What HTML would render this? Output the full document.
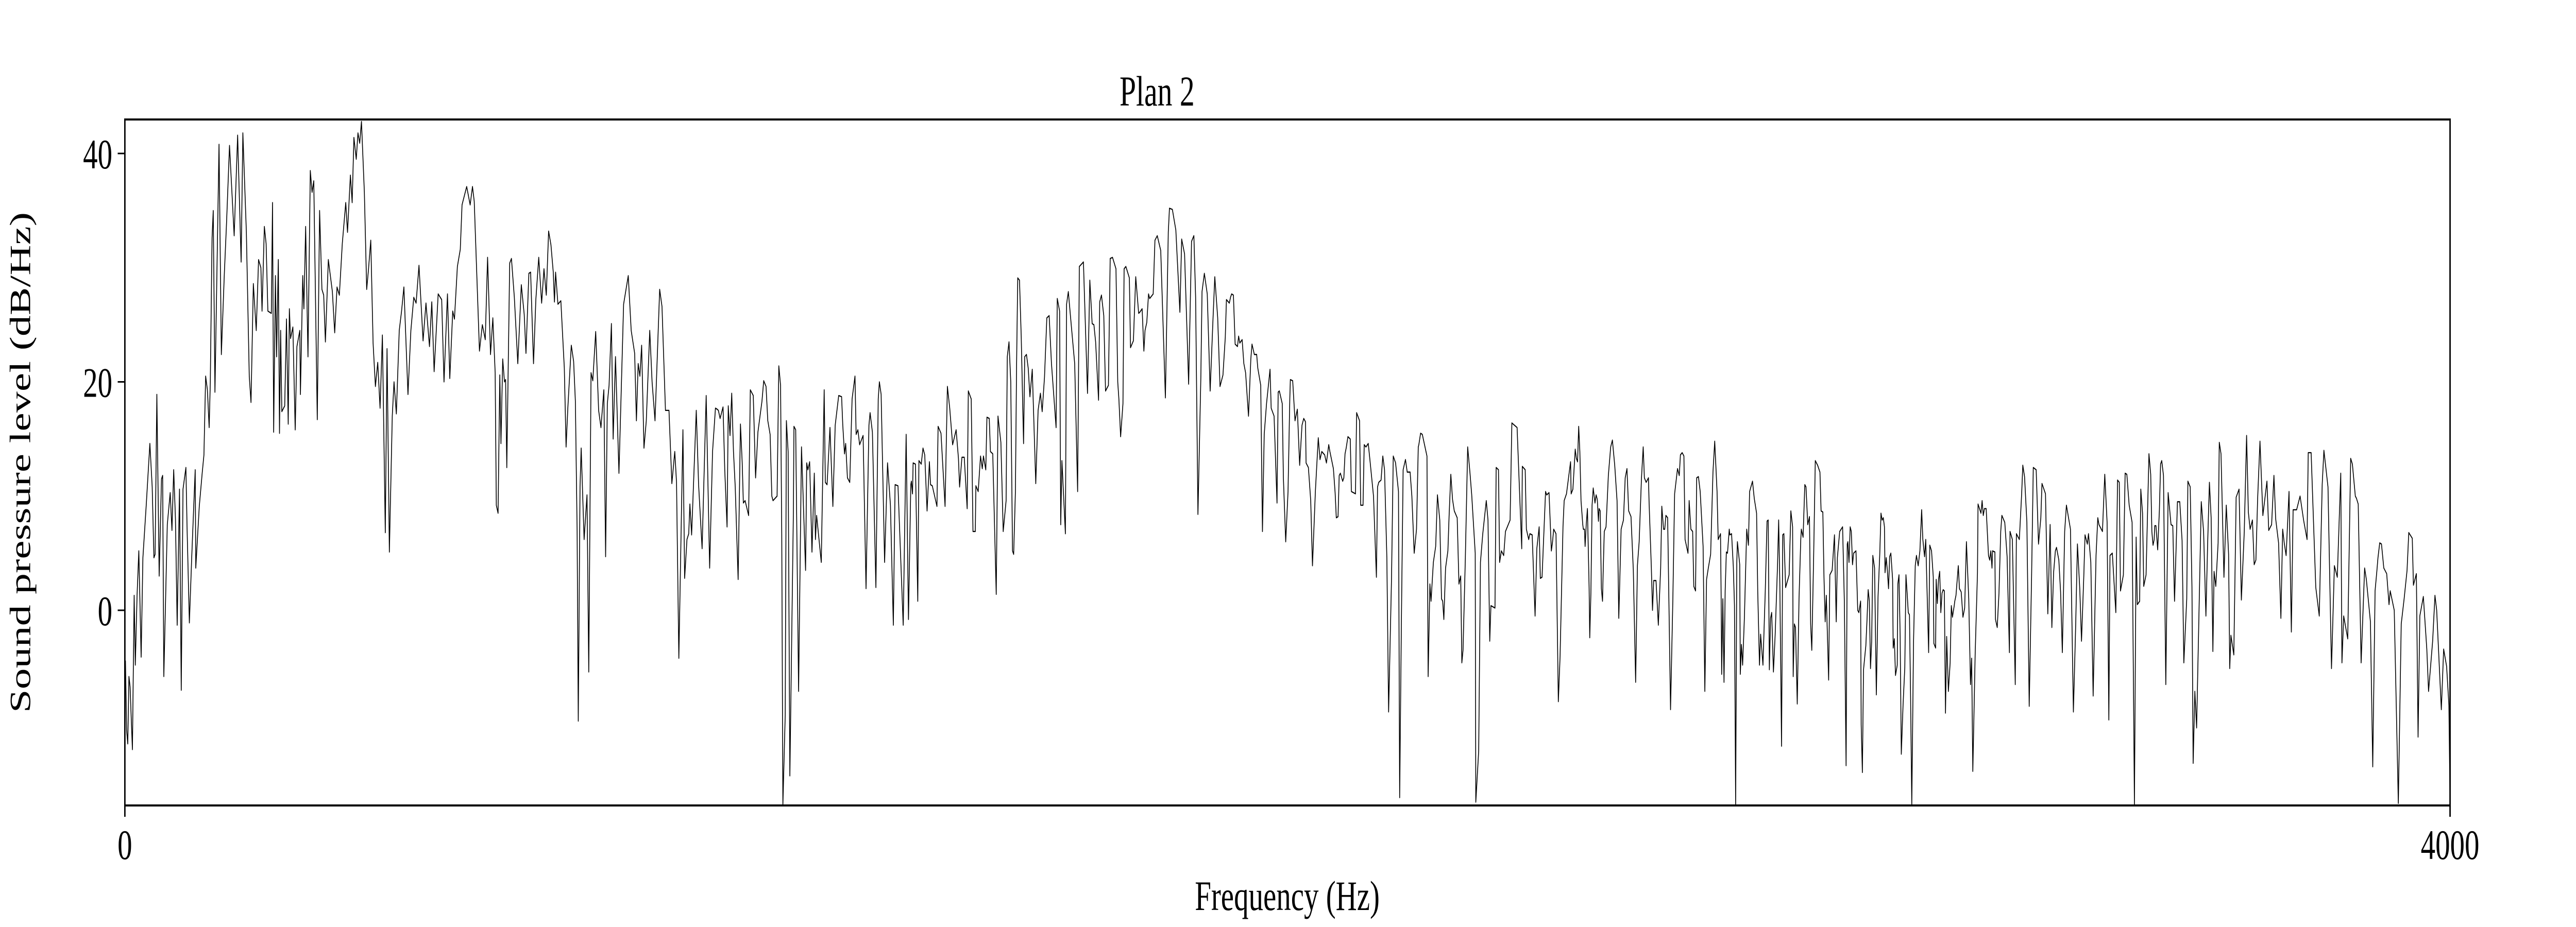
<!DOCTYPE html>
<html><head><meta charset="utf-8"><style>
html,body{margin:0;padding:0;background:#fff;width:100%;height:100%;overflow:hidden}
#chart{display:block;width:100vw;height:100vh}
svg text{font-family:"Liberation Serif","Times New Roman",serif;fill:#000}
</style></head><body>
<svg id="chart" viewBox="0 0 7200 1800" preserveAspectRatio="none" xmlns="http://www.w3.org/2000/svg">
<rect x="0" y="0" width="7200" height="1800" fill="#fff"/>
<text x="3234" y="205" font-size="83" text-anchor="middle">Plan 2</text>
<text x="3598" y="1767" font-size="82" text-anchor="middle">Frequency (Hz)</text>
<text transform="translate(84,898) rotate(-90)" font-size="82" text-anchor="middle">Sound pressure level (dB/Hz)</text>
<defs><clipPath id="plotclip"><rect x="349" y="232" width="6499" height="1332"/></clipPath></defs>
<g id="xticks"></g>
<g id="yticks"></g>
<path id="series" fill="none" stroke="#000" stroke-width="2.3" stroke-linejoin="round" clip-path="url(#plotclip)"/>
<rect x="349" y="232" width="6499" height="1332" fill="none" stroke="#000" stroke-width="4"/>
</svg>
<script>
const freqHz = [1,3,5,7,9,13,16,18,21,24,28,31,37,43,47,50,52,55,59,63,65,67,73,78,81,84,87,90,94,97,100,105,107,111,115,121,122,128,133,136,139,142,145,147,150,152,155,162,166,171,175,180,188,194,200,203,209,214,217,221,226,230,234,236,240,243,246,252,254,256,259,261,264,266,268,270,275,278,281,283,285,289,293,296,301,302,306,308,311,315,319,322,325,331,335,339,342,345,350,357,361,365,369,374,380,383,388,391,394,398,401,404,407,412,416,419,423,427,431,435,439,443,448,451,455,460,463,467,472,476,480,487,492,497,501,506,513,518,524,
528,532,539,545,549,555,559,564,567,572,577,580,588,594,598,601,610,615,620,624,629,633,637,639,642,645,647,650,653,655,657,662,665,670,676,682,687,690,695,698,703,707,712,717,721,725,729,733,737,739,741,745,750,756,759,762,768,772,775,778,780,783,785,790,795,798,802,805,810,815,819,824,827,830,833,837,840,844,850,858,866,871,877,880,883,886,889,893,897,903,907,912,920,924,930,936,941,946,949,953,960,963,967,970,972,975,983,987,993,1000,1006,1011,
1016,1019,1021,1024,1029,1032,1036,1038,1041,1044,1047,1050,1055,1059,1062,1064,1067,1073,1076,1081,1085,1089,1096,1099,1103,1106,1110,1113,1115,1122,1125,1128,1130,1132,1136,1138,1141,1144,1150,1151,1154,1159,1164,1171,1173,1175,1178,1182,1186,1188,1190,1198,1203,1205,1208,1213,1218,1222,1228,1233,1235,1238,1240,1243,1247,1251,1256,1258,1261,1264,1270,1275,1280,1282,1286,1292,1296,1298,1301,1307,1312,1317,1322,1325,1330,1339,1344,1348,1352,1353,1355,1356,1360,1364,1366,1370,1373,1376,1380,1384,1386,1389,1397,1399,1404,1411,1415,1419,1424,1430,1434,1436,1440,1444,1449,1451,1456,1459,1463,1464,1468,1472,1475,1477,1481,1483,1487,1489,1493,1499,1502,1507,
1511,1516,1518,1521,1524,1527,1529,1532,1534,1536,1539,1542,1546,1548,1551,1554,1557,1561,1567,1571,1575,1578,1582,1586,1590,1594,1602,1604,1608,1610,1612,1618,1620,1623,1628,1634,1639,1642,1649,1656,1660,1664,1667,1670,1675,1677,1680,1684,1687,1692,1695,1699,1705,1708,1710,1713,1717,1719,1722,1728,1730,1735,1739,1744,1746,1750,1753,1755,1758,1761,1763,1769,1772,1776,1782,1790,1795,1797,1802,1808,1815,1818,1823,1830,1835,1839,1842,1846,1851,1853,1857,1862,1867,1872,1875,1880,1884,1889,1893,1895,1900,1902,1904,1907,1910,1914,1916,1918,1922,1925,1928,1933,1937,1939,1943,1947,1949,1954,1957,1960,1964,1970,1972,1977,1982,1984,1986,1991,1993,1997,
2001,2004,2005,2009,2013,2017,2021,2025,2028,2031,2032,2036,2040,2043,2048,2053,2056,2059,2064,2067,2071,2073,2079,2082,2084,2087,2089,2091,2095,2097,2099,2101,2104,2108,2110,2117,2119,2124,2126,2130,2132,2135,2139,2142,2148,2153,2155,2157,2161,2164,2167,2171,2174,2179,2182,2186,2191,2193,2196,2199,2203,2206,2211,2214,2218,2222,2225,2226,2229,2232,2240,2242,2245,2247,2251,2255,2258,2262,2265,2267,2269,2272,2276,2278,2281,2284,2287,2292,2295,2298,2300,2302,2306,2310,2314,2317,2323,2324,2329,2332,2336,2342,2345,2348,2350,2357,2359,2363,2365,2368,2372,2375,2383,2386,2395,2403,2404,2409,2411,2415,2417,2421,2426,2429,2433,2435,2438,2444,2446,2450,2454,2456,2458,2462,2466,2469,2474,2476,2480,2487,2488,2491,
2495,2497,2499,2501,2503,2505,2508,2509,2511,2512,2514,2516,2519,2520,2522,2524,2526,2529,2531,2533,2535,2536,2538,2540,2542,2543,2545,2548,2552,2556,2559,2563,2567,2570,2574,2578,2581,2584,2587,2591,2595,2599,2602,2605,2609,2612,2614,2617,2621,2622,2626,2628,2630,2634,2638,2642,2644,2647,2649,2651,2654,2656,2659,2663,2666,2671,2674,2676,2679,2682,2684,2689,2691,2694,2697,2699,2702,2704,2707,2710,2715,2718,2721,2724,2728,2732,2735,2739,2741,2745,2746,2747,2749,2751,2753,2755,2757,2760,2761,2764,2767,2769,2771,2773,2774,2778,2779,2781,2783,2786,2790,2793,2795,2800,2803,2807,2809,2812,2814,2818,2822,2825,2827,2829,2831,2833,2836,2839,2843,2845,2847,2850,2852,2854,2857,2863,2866,2869,2870,2872,2874,2877,2880,2883,2884,2887,2890,2892,2895,2898,2900,2902,2905,2908,2912,2916,2918,2921,2923,2925,2927,2931,2933,2937,2941,2944,2946,2950,2955,2958,2961,2963,2964,2966,2968,2970,2972,2974,2978,2981,2983,
2986,2987,2989,2991,2995,2997,2999,3001,3003,3005,3007,3010,3013,3016,3019,3021,3023,3025,3027,3028,3030,3032,3034,3036,3038,3041,3042,3044,3046,3049,3050,3052,3054,3056,3059,3062,3064,3066,3068,3070,3072,3074,3077,3080,3082,3085,3088,3091,3093,3096,3098,3103,3105,3108,3111,3112,3115,3116,3118,3120,3122,3124,3126,3128,3130,3132,3134,3137,3140,3142,3144,3147,3148,3150,3154,3156,3158,3159,3162,3165,3168,3172,3175,3177,3179,3183,3187,3188,3193,3195,3197,3199,3202,3206,3208,3210,3212,3213,3217,3218,3221,3224,3227,3229,3234,3238,3242,3243,3247,3252,3254,3259,3263,3265,3268,3272,3276,3280,3283,3288,3292,3296,3298,3304,3308,3312,3315,3318,3321,3323,3327,3330,3333,3337,3340,3347,3352,3356,3359,3363,3366,3370,3372,3376,3378,3382,3386,3391,3394,3396,3402,3406,3410,3413,3415,3419,3425,3428,3431,3433,3438,3441,3444,3448,3453,3457,3460,3462,3466,3468,3471,3473,3477,
3482,3485,3487,3489,3491,3492,3494,3497,3500,3502,3504,3507,3511,3515,3518,3520,3523,3526,3529,3531,3535,3539,3542,3547,3549,3553,3556,3558,3561,3564,3569,3572,3576,3580,3583,3586,3589,3592,3594,3597,3601,3603,3606,3611,3615,3619,3621,3623,3628,3632,3637,3641,3646,3650,3653,3656,3660,3663,3666,3669,3673,3678,3685,3688,3693,3697,3700,3705,3709,3712,3715,3718,3723,3727,3730,3736,3742,3748,3754,3756,3761,3766,3769,3775,3780,3783,3790,3796,3801,3806,3812,3814,3817,3824,3829,3832,3837,3839,3842,3847,3853,3856,3863,3867,3871,3874,3876,3879,3882,3886,3891,3895,3897,3904,3911,3916,3921,3926,3929,3935,3937,3942,3945,3948,3954,3960,3963,3970,3974,3977,3985,3989,3994,3998,4000];
const levelDb = [-4.4,-10.5,-11.7,-5.8,-6.7,-12.2,1.3,-4.8,1.3,5.2,-4.1,4.6,9.4,14.6,10.8,4.6,4.9,18.9,3.0,11.5,11.8,-5.8,7.5,10.3,7.0,12.3,8.0,-1.3,10.6,-7.0,10.6,12.5,7.3,-1.1,4.6,12.3,3.7,9.1,12.0,13.6,20.5,19.3,16.0,20.0,32.6,35.0,19.1,40.8,22.4,29.3,34.0,40.7,32.8,41.6,30.5,41.8,33.1,20.5,18.2,28.6,24.5,30.7,30.0,26.2,33.6,32.1,26.2,26.0,35.7,15.6,29.3,22.2,30.7,15.5,24.5,17.4,17.9,25.5,16.3,26.4,23.8,24.8,15.8,23.1,24.5,18.9,29.3,26.4,33.6,22.2,38.5,36.6,37.6,16.7,35.0,28.1,27.6,23.5,30.7,27.9,24.3,28.3,27.6,32.1,35.7,33.1,38.1,35.7,41.4,39.5,41.8,40.9,42.8,36.6,28.1,29.8,32.4,23.4,19.6,21.7,17.7,24.1,6.8,22.9,5.1,17.0,20.0,17.2,24.5,26.2,28.3,18.9,24.5,27.4,26.9,30.2,23.6,26.9,23.1,
27.0,20.9,27.7,27.2,20.0,27.7,20.3,26.2,25.5,30.1,31.6,35.5,37.1,35.5,37.1,35.8,22.7,25.0,23.7,30.9,22.4,25.6,20.8,9.2,8.5,20.6,14.6,22.0,20.0,20.2,12.5,30.4,30.8,27.4,21.6,28.5,25.9,22.5,29.5,29.6,21.6,27.2,30.9,26.9,29.9,27.6,33.2,32.0,29.6,27.0,29.6,26.8,27.1,21.2,14.3,17.7,23.2,21.8,18.3,6.9,-9.7,10.8,14.2,6.2,10.1,-5.4,20.8,20.1,24.4,17.5,16.0,19.3,4.7,18.1,19.7,25.1,15.0,22.2,12.0,26.8,29.3,24.5,22.5,16.6,21.6,20.5,23.2,14.2,16.6,24.5,20.0,16.6,28.1,26.6,17.5,17.5,11.1,13.9,11.2,-4.2,15.8,2.8,6.2,6.7,9.3,6.6,17.5,11.0,5.4,18.8,3.7,13.9,17.7,
17.6,17.5,16.8,17.8,12.3,7.3,17.9,15.3,19.0,13.9,10.8,2.7,16.3,12.9,9.4,9.6,8.3,19.3,18.8,11.6,15.6,18.3,20.1,19.6,16.6,15.4,10.0,9.6,10.0,21.4,19.7,6.6,-17.0,-9.2,16.6,13.9,-14.5,8.5,16.1,15.8,-7.1,14.3,3.5,12.9,12.3,13.0,5.1,12.0,6.2,8.3,4.2,19.3,11.2,11.0,16.0,9.1,16.2,18.8,18.7,16.2,13.7,14.6,11.6,11.2,18.5,20.5,15.4,15.8,14.5,15.3,1.9,16.2,17.3,15.6,2.0,18.5,20.0,18.9,4.2,12.9,9.2,-1.3,11.0,10.9,-1.3,15.4,-0.8,11.0,11.3,10.2,12.9,12.8,0.8,13.1,12.8,14.2,13.6,8.7,13.0,11.0,10.9,9.1,16.1,15.5,9.1,19.6,17.7,14.5,15.8,13.3,10.8,13.4,13.4,8.9,19.2,18.5,6.9,6.9,10.9,10.4,13.5,12.4,13.5,12.3,16.9,16.8,13.9,13.7,1.4,17.0,14.7,6.9,
9.6,22.2,23.5,20.0,5.2,4.9,10.4,21.6,29.1,28.9,23.9,14.6,22.2,22.4,21.2,18.7,21.1,11.1,17.5,19.0,17.4,20.4,25.6,25.8,21.6,16.0,27.3,26.2,7.5,13.1,6.7,26.8,27.9,25.0,21.6,10.4,30.1,30.5,19.0,28.9,25.1,25.0,23.5,18.4,27.0,27.6,25.8,19.2,19.7,30.8,30.9,29.9,20.0,18.5,15.2,18.1,29.9,30.1,29.1,23.0,23.6,29.2,26.0,26.1,26.4,22.7,24.5,25.2,27.7,27.3,27.7,32.4,32.8,31.5,18.6,33.1,35.2,35.1,33.3,26.1,32.5,31.2,19.8,32.3,32.8,27.4,8.4,20.4,27.9,29.5,27.7,19.2,25.6,29.2,25.6,19.6,20.6,23.9,27.2,26.9,27.4,27.7,27.6,23.3,23.1,24.0,23.4,23.7,21.6,20.8,17.0,22.0,23.3,22.4,22.4,21.2,19.7,6.9,15.4,18.1,21.1,17.7,17.0,9.4,19.1,19.2,18.1,11.6,6.0,10.4,
18.5,20.2,20.1,16.6,17.6,12.7,16.2,16.8,16.5,12.9,12.5,9.6,3.9,10.4,15.1,13.2,13.9,13.6,12.9,14.5,13.9,12.4,10.3,8.1,8.2,11.8,12.0,11.3,11.6,13.7,14.2,15.2,15.0,10.4,10.2,17.3,16.6,9.2,9.2,14.5,14.3,14.6,13.1,10.0,2.9,10.8,11.2,11.4,13.5,12.3,4.6,-8.9,2.7,13.5,12.9,10.4,-16.4,-0.8,12.3,13.2,12.1,12.1,10.0,5.0,7.1,14.3,14.5,15.5,15.4,13.5,-5.8,2.3,0.8,4.2,5.6,10.1,7.9,1.0,0.8,-0.8,3.7,5.2,8.2,11.9,9.7,8.7,8.1,2.3,3.0,-4.6,-3.5,4.6,14.3,12.0,10.1,5.0,-16.8,-12.3,4.2,6.7,9.6,7.9,-2.7,0.4,0.2,12.5,12.3,4.2,5.2,4.8,6.9,7.9,16.4,16.0,5.4,12.6,12.3,7.1,6.2,6.7,6.6,-0.5,5.4,7.3,2.8,2.9,10.4,10.1,10.3,5.2,6.0,7.1,6.7,-8.0,-4.0,7.3,9.6,10.2,13.0,10.2,10.6,14.1,
13.3,13.0,16.1,13.9,9.6,7.5,7.1,7.1,5.6,7.5,8.9,1.9,-2.4,1.5,9.2,10.7,9.4,10.1,9.7,7.8,8.9,8.7,1.9,0.8,3.1,6.9,7.3,11.8,14.3,14.9,12.7,9.6,-0.7,7.1,7.9,11.6,12.4,8.7,8.2,3.5,-6.3,3.9,6.0,11.6,14.3,11.6,11.2,11.6,9.6,3.7,0.0,2.6,2.6,-1.3,3.7,9.1,7.1,7.1,8.3,8.1,1.5,-8.7,1.0,10.2,12.4,11.8,13.6,13.8,13.5,6.2,5.0,9.6,7.1,6.9,2.1,1.7,11.6,11.7,10.4,5.6,-7.1,2.7,3.7,4.9,12.1,14.8,10.4,6.2,6.7,1.3,-5.6,1.0,-6.3,1.7,5.1,5.0,7.1,6.6,6.7,3.8,0.4,-17.0,4.2,6.0,4.0,-5.6,-3.0,-4.8,-0.7,7.1,5.7,10.4,11.3,9.8,8.5,1.7,-4.8,-2.1,-4.8,1.7,7.8,7.9,-5.2,-0.7,-0.2,-5.4,-2.1,3.9,7.9,2.3,-11.9,6.6,6.7,2.0,3.1,8.7,7.3,-5.8,-1.2,-1.5,-8.2,1.0,6.2,7.1,6.4,11.0,10.8,7.5,8.2,-1.2,-3.5,4.2,13.1,12.7,12.1,8.7,8.6,2.9,-1.0,1.3,-6.1,3.1,3.5,6.6,-1.0,4.6,6.9,7.3,0.8,-13.6,5.8,6.0,4.2,7.3,6.9,4.0,5.0,5.2,0.0,-0.2,0.8,
-10.0,-14.2,-5.2,-3.1,-0.8,1.8,0.8,-5.1,-2.7,4.8,3.7,-7.4,1.2,5.0,8.5,7.9,8.1,7.3,3.3,4.6,3.5,1.9,4.7,5.0,2.7,-3.3,-2.5,-5.7,-4.8,2.3,3.1,-2.3,-12.6,-8.3,-5.0,3.1,1.5,-0.2,-0.4,-7.7,-17.0,-2.7,3.9,4.8,3.9,5.2,8.8,6.2,4.7,6.2,-3.7,5.7,5.2,2.9,-2.9,-3.3,2.7,0.6,2.7,3.4,-0.2,1.5,1.8,1.7,-9.0,-2.3,-7.1,-4.6,0.4,-0.6,0.4,0.8,1.3,3.9,1.9,1.7,1.6,-0.6,0.2,6.0,1.0,-6.5,-4.2,-14.1,-3.9,3.3,9.3,8.5,9.6,8.3,8.9,8.9,4.8,4.4,5.2,3.7,5.2,5.1,-0.8,-1.5,1.5,6.9,8.3,7.7,4.7,-3.7,6.9,6.2,-6.5,6.7,6.2,10.2,12.7,11.7,7.7,-8.4,2.7,12.5,12.3,5.8,8.1,11.1,10.2,-0.3,7.5,-1.5,3.3,5.2,5.5,4.4,1.6,-3.7,6.9,9.2,7.1,-8.9,-1.2,5.8,1.9,-2.7,3.1,6.6,5.8,6.7,4.2,-7.5,4.8,8.1,7.5,6.9,11.9,7.7,-9.6,4.8,5.0,-0.2,11.4,11.2,1.7,3.1,12.0,11.9,9.2,7.7,-17.0,6.4,0.5,0.8,10.6,8.5,2.1,3.1,13.7,
11.9,6.9,5.7,6.2,7.4,7.4,5.3,8.8,12.8,13.1,11.8,-6.5,10.3,8.6,7.5,7.4,0.8,5.9,9.5,9.5,6.1,-4.6,1.0,11.3,10.8,2.0,-13.4,-7.1,-10.3,2.0,9.5,6.9,-0.5,5.9,11.2,8.1,-3.6,3.4,2.1,5.9,14.7,13.7,2.9,9.2,4.9,-5.1,-2.2,-3.9,9.9,10.6,0.9,6.9,15.3,8.6,7.1,7.9,4.0,4.4,9.8,14.8,8.3,11.3,7.0,7.5,11.8,8.0,5.9,-0.7,7.1,5.8,4.8,10.4,-1.9,8.8,8.8,10.0,7.9,6.2,13.8,13.8,6.4,2.0,-0.5,11.0,14.0,10.8,-5.1,3.9,2.9,12.0,-4.6,-0.5,-2.5,13.3,12.8,10.0,9.8,9.3,-4.6,3.7,2.7,-1.0,-13.7,1.7,3.4,4.6,5.9,5.8,3.7,3.2,0.5,1.7,0.0,-16.9,-1.2,1.0,3.5,6.8,6.3,2.2,3.2,-11.1,-0.5,1.2,-3.4,-7.1,-2.7,1.3,0.0,-8.7,-3.4,-4.9,-8.3,-16.9,-17.5];
const xTickValues = [0, 4000];
const xTickLabels = ["0", "4000"];
const yTickValues = [0, 20, 40];
const yTickLabels = ["0", "20", "40"];

const PL = 349, PR = 6848, PT = 232, PB = 1564;
const X_MIN = 0, X_MAX = 4000;
const Y_ZERO_PX = 1185, PX_PER_DB = 22.175;
function xScale(f){ return PL + (f - X_MIN) / (X_MAX - X_MIN) * (PR - PL); }
function yScale(d){ return Y_ZERO_PX - d * PX_PER_DB; }

const NS = "http://www.w3.org/2000/svg";
const n = Math.min(freqHz.length, levelDb.length);
let d = "";
for (let i = 0; i < n; i++) {
  d += (i ? "L" : "M") + xScale(freqHz[i]).toFixed(1) + "," + yScale(levelDb[i]).toFixed(1);
}
document.getElementById("series").setAttribute("d", d);

const xg = document.getElementById("xticks");
xTickValues.forEach(function(v, i){
  const x = xScale(v);
  const ln = document.createElementNS(NS, "line");
  ln.setAttribute("x1", x); ln.setAttribute("x2", x);
  ln.setAttribute("y1", PB); ln.setAttribute("y2", PB + 22);
  ln.setAttribute("stroke", "#000"); ln.setAttribute("stroke-width", "4");
  
  
  xg.appendChild(ln);
  const t = document.createElementNS(NS, "text");
  t.setAttribute("x", x); t.setAttribute("y", 1668);
  t.setAttribute("font-size", "82"); t.setAttribute("text-anchor", "middle");
  t.textContent = xTickLabels[i];
  
  
  xg.appendChild(t);
});

const yg = document.getElementById("yticks");
yTickValues.forEach(function(v, i){
  const y = yScale(v);
  const ln = document.createElementNS(NS, "line");
  ln.setAttribute("x1", PL - 20); ln.setAttribute("x2", PL);
  ln.setAttribute("y1", y); ln.setAttribute("y2", y);
  ln.setAttribute("stroke", "#000"); ln.setAttribute("stroke-width", "3");
  
  
  yg.appendChild(ln);
  const t = document.createElementNS(NS, "text");
  t.setAttribute("x", 314); t.setAttribute("y", y + 29);
  t.setAttribute("font-size", "82"); t.setAttribute("text-anchor", "end");
  t.textContent = yTickLabels[i];
  
  
  yg.appendChild(t);
});
</script>
</body></html>
